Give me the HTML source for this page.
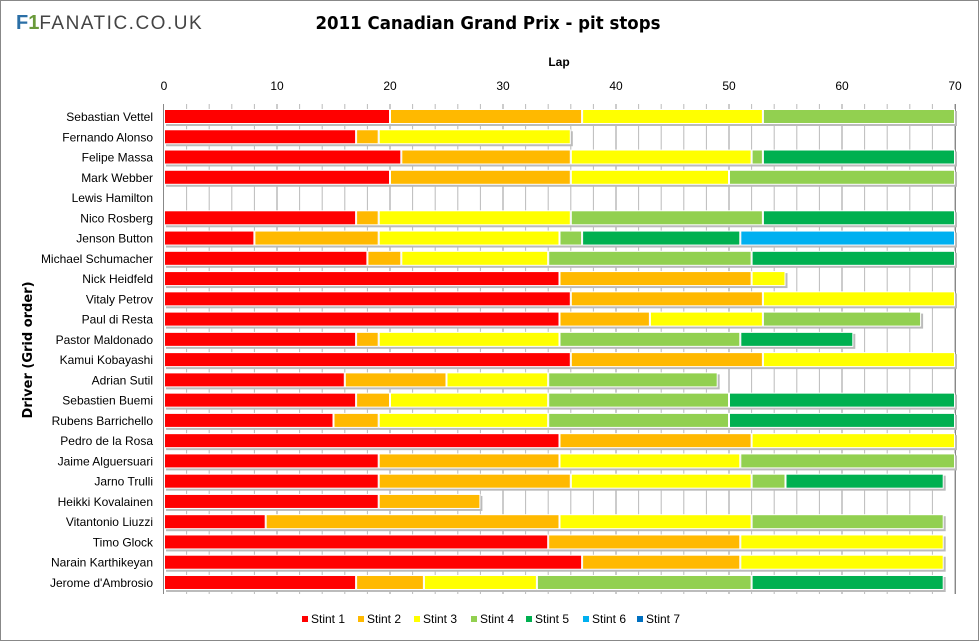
<!DOCTYPE html><html><head><style>body{margin:0;background:#fff}svg{display:block}text{font-family:"Liberation Sans",sans-serif}</style></head><body>
<svg width="979" height="641" xmlns="http://www.w3.org/2000/svg">
<rect x="0.5" y="0.5" width="978" height="640" fill="#fff" stroke="#888"/>
<text x="16" y="29" font-size="20" fill="#2b6fa6" font-weight="bold">F<tspan fill="#6a9a3a">1</tspan><tspan fill="#444" font-weight="normal" font-size="19" letter-spacing="1.5">FANATIC.CO.UK</tspan></text>
<text x="488" y="29" font-size="18" font-weight="bold" text-anchor="middle" style="font-family:'DejaVu Sans',sans-serif" textLength="345" lengthAdjust="spacingAndGlyphs">2011 Canadian Grand Prix - pit stops</text>
<text x="559" y="66" font-size="12" font-weight="bold" text-anchor="middle">Lap</text>
<text x="32" y="350" font-size="13" font-weight="bold" text-anchor="middle" transform="rotate(-90 32 350)" style="font-family:'DejaVu Sans',sans-serif">Driver (Grid order)</text>
<g id="g"></g>
<line x1="955.5" y1="104" x2="955.5" y2="594" stroke="#888"/>
<line x1="163.5" y1="104" x2="163.5" y2="594" stroke="#888"/>
<g font-size="12" text-anchor="middle" id="ax"></g>
<g id="bars"></g>
<g font-size="12" id="leg"></g>
</svg>
<script>
var ns="http://www.w3.org/2000/svg",X=function(l){return 164+l*11.3};
function el(p,t,a,tx){var e=document.createElementNS(ns,t);for(var k in a)e.setAttribute(k,a[k]);if(tx!=null)e.textContent=tx;p.appendChild(e);return e}
var g=document.getElementById('g'),ax=document.getElementById('ax'),b=document.getElementById('bars'),lg=document.getElementById('leg');
for(var l=2;l<=70;l+=2)el(g,'line',{x1:X(l),x2:X(l),y1:104,y2:594,stroke:l%10?'#bbb':'#999'});
for(var l=0;l<=70;l+=10)el(ax,'text',{x:X(l),y:90},l);
var C=['#ff0000','#ffb900','#ffff00','#92d050','#00b050','#00b0f0','#0070c0'];
var D=[["Sebastian Vettel",[20,37,53,70]],["Fernando Alonso",[17,19,36]],["Felipe Massa",[21,36,52,53,70]],["Mark Webber",[20,36,50,70]],["Lewis Hamilton",[]],["Nico Rosberg",[17,19,36,53,70]],["Jenson Button",[8,19,35,37,51,70]],["Michael Schumacher",[18,21,34,52,70]],["Nick Heidfeld",[35,52,55]],["Vitaly Petrov",[36,53,70]],["Paul di Resta",[35,43,53,67]],["Pastor Maldonado",[17,19,35,51,61]],["Kamui Kobayashi",[36,53,70]],["Adrian Sutil",[16,25,34,49]],["Sebastien Buemi",[17,20,34,50,70]],["Rubens Barrichello",[15,19,34,50,70]],["Pedro de la Rosa",[35,52,70]],["Jaime Alguersuari",[19,35,51,70]],["Jarno Trulli",[19,36,52,55,69]],["Heikki Kovalainen",[19,28]],["Vitantonio Liuzzi",[9,35,52,69]],["Timo Glock",[34,51,69]],["Narain Karthikeyan",[37,51,69]],["Jerome d'Ambrosio",[17,23,33,52,69]]];
D.forEach(function(d,i){var y=117+i*20.26;
el(b,'text',{x:153,y:y+4,'font-size':12,'text-anchor':'end'},d[0]);
var s=d[1];if(!s.length)return;
el(b,'rect',{x:X(0)+2,y:y-6,width:X(s[s.length-1])-X(0),height:15,fill:'#bbb'});
var p=0;s.forEach(function(e,j){el(b,'rect',{x:X(p)+.5,y:y-7.5,width:X(e)-X(p)-1,height:14,fill:C[j],stroke:'#fff','stroke-width':1});p=e});});
var lx=[302,358,414,471,526,583,637];
C.forEach(function(c,j){el(lg,'rect',{x:lx[j],y:616,width:6,height:6,fill:c});el(lg,'text',{x:lx[j]+9,y:623},'Stint '+(j+1))});
</script></body></html>
